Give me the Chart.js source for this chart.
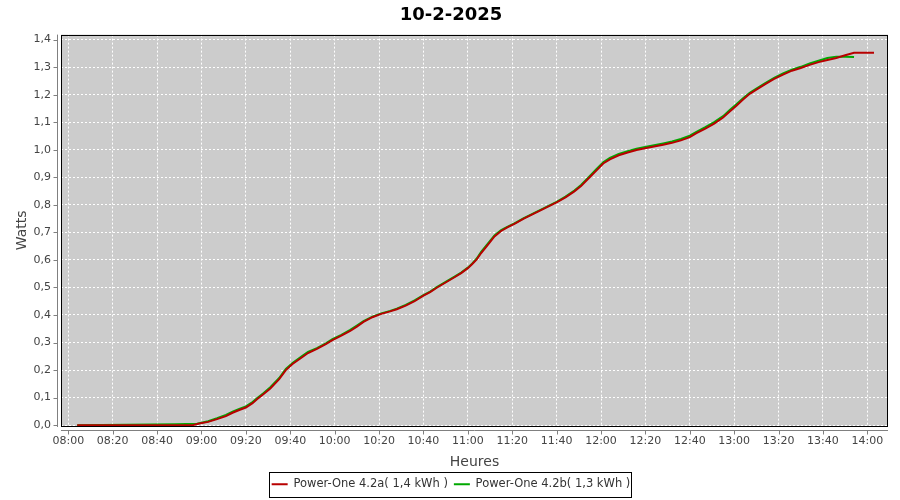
<!DOCTYPE html>
<html>
<head>
<meta charset="utf-8">
<title>10-2-2025</title>
<script src="https://cdn.jsdelivr.net/npm/chart.js@4.4.1/dist/chart.umd.min.js"></script>
<style>
  html, body { margin: 0; padding: 0; background: #fff; }
  #wrap { width: 900px; height: 500px; }
</style>
</head>
<body>
<div id="wrap"><canvas id="prodChart" width="900" height="500"></canvas></div>
<script>
// ---- data (time HH:MM, value) ----
const redTimes = ['08:04','08:56','08:59','09:03','09:07','09:11','09:14','09:17','09:20','09:23','09:25','09:28','09:31','09:35','09:38','09:41','09:45','09:48','09:52','09:56','09:59','10:03','10:07','10:10','10:13','10:17','10:21','10:25','10:28','10:32','10:36','10:40','10:43','10:46','10:50','10:54','10:57','11:00','11:02','11:04','11:06','11:09','11:12','11:15','11:18','11:21','11:25','11:30','11:35','11:40','11:44','11:48','11:51','11:54','11:58','12:01','12:04','12:08','12:12','12:16','12:21','12:28','12:32','12:36','12:40','12:43','12:47','12:51','12:55','12:58','13:01','13:04','13:07','13:10','13:14','13:18','13:22','13:26','13:30','13:34','13:38','13:42','13:46','13:50','13:54','14:03'];
const redWatts = [0,0,0.006,0.012,0.022,0.033,0.045,0.055,0.064,0.080,0.094,0.113,0.133,0.167,0.200,0.222,0.245,0.262,0.277,0.294,0.309,0.325,0.342,0.358,0.375,0.392,0.404,0.413,0.421,0.434,0.450,0.470,0.483,0.499,0.518,0.537,0.552,0.570,0.585,0.602,0.625,0.655,0.685,0.705,0.719,0.731,0.749,0.769,0.789,0.809,0.827,0.849,0.868,0.893,0.925,0.950,0.965,0.980,0.990,0.999,1.007,1.018,1.025,1.034,1.046,1.060,1.077,1.095,1.117,1.139,1.160,1.182,1.203,1.218,1.238,1.257,1.273,1.287,1.297,1.308,1.318,1.326,1.333,1.343,1.352,1.352];

const greenTimes = ['08:04','08:48','08:58','09:03','09:07','09:11','09:14','09:17','09:20','09:23','09:25','09:28','09:31','09:35','09:38','09:41','09:45','09:48','09:52','09:56','09:59','10:03','10:07','10:10','10:13','10:17','10:21','10:25','10:28','10:32','10:36','10:40','10:43','10:46','10:50','10:54','10:57','11:00','11:02','11:04','11:06','11:09','11:12','11:15','11:18','11:21','11:25','11:30','11:35','11:40','11:44','11:48','11:51','11:54','11:58','12:01','12:04','12:08','12:12','12:16','12:21','12:28','12:32','12:36','12:40','12:43','12:47','12:51','12:55','12:58','13:01','13:04','13:07','13:10','13:14','13:18','13:22','13:26','13:30','13:34','13:38','13:42','13:46','13:50','13:54'];
const greenWatts = [0,0.003,0.005,0.014,0.025,0.037,0.049,0.059,0.068,0.084,0.098,0.117,0.138,0.171,0.204,0.226,0.249,0.266,0.280,0.297,0.312,0.328,0.346,0.362,0.378,0.394,0.406,0.415,0.423,0.437,0.453,0.472,0.485,0.501,0.520,0.539,0.554,0.572,0.587,0.605,0.629,0.659,0.689,0.708,0.721,0.733,0.751,0.771,0.791,0.811,0.830,0.852,0.872,0.897,0.930,0.954,0.970,0.985,0.995,1.004,1.012,1.023,1.030,1.039,1.051,1.065,1.082,1.100,1.122,1.144,1.165,1.187,1.207,1.222,1.242,1.261,1.277,1.291,1.301,1.313,1.323,1.333,1.338,1.338,1.337];

const seriesNames = ['Power-One 4.2a( 1,4 kWh )', 'Power-One 4.2b( 1,3 kWh )'];
const seriesColors = ['#b80000', '#00a800'];

const xTicks = ['08:00','08:20','08:40','09:00','09:20','09:40','10:00','10:20','10:40','11:00','11:20','11:40','12:00','12:20','12:40','13:00','13:20','13:40','14:00'];
const yTicks = [0,0.1,0.2,0.3,0.4,0.5,0.6,0.7,0.8,0.9,1.0,1.1,1.2,1.3,1.4];

const toMin = s => { const [h, m] = s.split(':').map(Number); return h * 60 + m; };
const fmtMin = v => String(Math.floor(v / 60)).padStart(2, '0') + ':' + String(Math.round(v % 60)).padStart(2, '0');
const pts = (times, vals) => times.map((t, i) => ({ x: toMin(t), y: vals[i] }));

const FONT = 'DejaVu Sans, sans-serif';
const AXIS_GRAY = '#808080';

// plot background, black frame, offset axis lines + tick marks, legend frame
const jfreeLook = {
  id: 'jfreeLook',
  beforeDraw(chart) {
    const { ctx, chartArea: a } = chart;
    ctx.save();
    ctx.fillStyle = '#cccccc';
    ctx.fillRect(a.left, a.top, a.right - a.left, a.bottom - a.top);
    ctx.restore();
  },
  afterDraw(chart) {
    const { ctx, chartArea: a, scales } = chart;
    ctx.save();
    ctx.strokeStyle = '#000';
    ctx.lineWidth = 1;
    ctx.strokeRect(Math.round(a.left) + 0.5, Math.round(a.top) + 0.5, Math.round(a.right - a.left) - 1, Math.round(a.bottom - a.top));

    ctx.strokeStyle = AXIS_GRAY;
    ctx.beginPath();
    const ax = Math.round(a.left) - 3.5;
    ctx.moveTo(ax, a.top); ctx.lineTo(ax, a.bottom + 1);
    scales.y.ticks.forEach(t => {
      const y = Math.round(scales.y.getPixelForValue(t.value)) + 0.5;
      ctx.moveTo(ax - 4, y); ctx.lineTo(ax, y);
    });
    const ay = Math.round(a.bottom) + 4.5;
    ctx.moveTo(a.left, ay); ctx.lineTo(a.right, ay);
    scales.x.ticks.forEach(t => {
      const x = Math.round(scales.x.getPixelForValue(t.value)) + 0.5;
      ctx.moveTo(x, ay); ctx.lineTo(x, ay + 4);
    });
    ctx.stroke();

    const boxes = chart.legend.legendHitBoxes;
    if (boxes && boxes.length) {
      const first = boxes[0], last = boxes[boxes.length - 1];
      const l = Math.round(first.left) - 2.5;
      const r = Math.round(last.left + last.width) + 1.5;
      const t = Math.round(first.top) - 6.5;
      const b = Math.round(first.top + first.height) + 7.5;
      ctx.strokeStyle = '#000';
      ctx.strokeRect(l, t, r - l, b - t);
    }
    ctx.restore();
  }
};

new Chart(document.getElementById('prodChart'), {
  type: 'line',
  data: {
    datasets: [
      { label: seriesNames[0], data: pts(redTimes, redWatts), borderColor: seriesColors[0], backgroundColor: seriesColors[0], borderWidth: 2 },
      { label: seriesNames[1], data: pts(greenTimes, greenWatts), borderColor: seriesColors[1], backgroundColor: seriesColors[1], borderWidth: 2 },
    ],
  },
  options: {
    responsive: false,
    devicePixelRatio: 1,
    animation: false,
    layout: { padding: { left: 14, right: 12, top: 0, bottom: 0 } },
    elements: {
      line: { borderWidth: 2, tension: 0, fill: false },
      point: { radius: 0 },
    },
    plugins: {
      title: {
        display: true, text: '10-2-2025', color: '#000',
        font: { family: FONT, size: 18, weight: 'bold' },
        padding: { top: 5, bottom: 8 },
      },
      legend: {
        position: 'bottom',
        labels: {
          usePointStyle: true, pointStyle: 'line', pointStyleWidth: 16,
          color: '#333', font: { family: FONT, size: 11.5 }, padding: 6,
        },
      },
      tooltip: { enabled: false },
    },
    scales: {
      x: {
        type: 'linear',
        min: 476.7, max: 849.3,
        afterBuildTicks: s => { s.ticks = xTicks.map(t => ({ value: toMin(t) })); },
        afterFit: s => { s.height = 500 - 426 - s.chart.legend.height; },
        ticks: { callback: v => fmtMin(v), autoSkip: false, maxRotation: 0, color: '#444', font: { family: FONT, size: 11 }, padding: 9 },
        grid: { color: '#ffffff', lineWidth: 1, drawTicks: false },
        border: { display: false, dash: [2, 2] },
        title: { display: true, text: 'Heures', color: '#444', font: { family: FONT, size: 14 }, padding: { top: 0, bottom: 2 } },
      },
      y: {
        min: -0.003, max: 1.418,
        afterBuildTicks: s => { s.ticks = yTicks.map(v => ({ value: v })); },
        afterFit: s => { s.width = 47; },
        ticks: { callback: v => v.toFixed(1).replace('.', ','), color: '#444', font: { family: FONT, size: 11 }, padding: 10 },
        grid: { color: '#ffffff', lineWidth: 1, drawTicks: false },
        border: { display: false, dash: [2, 2] },
        title: { display: true, text: 'Watts', color: '#444', font: { family: FONT, size: 14 }, padding: { top: 0, bottom: 0 } },
      },
    },
  },
  plugins: [jfreeLook],
});
</script>
</body>
</html>
